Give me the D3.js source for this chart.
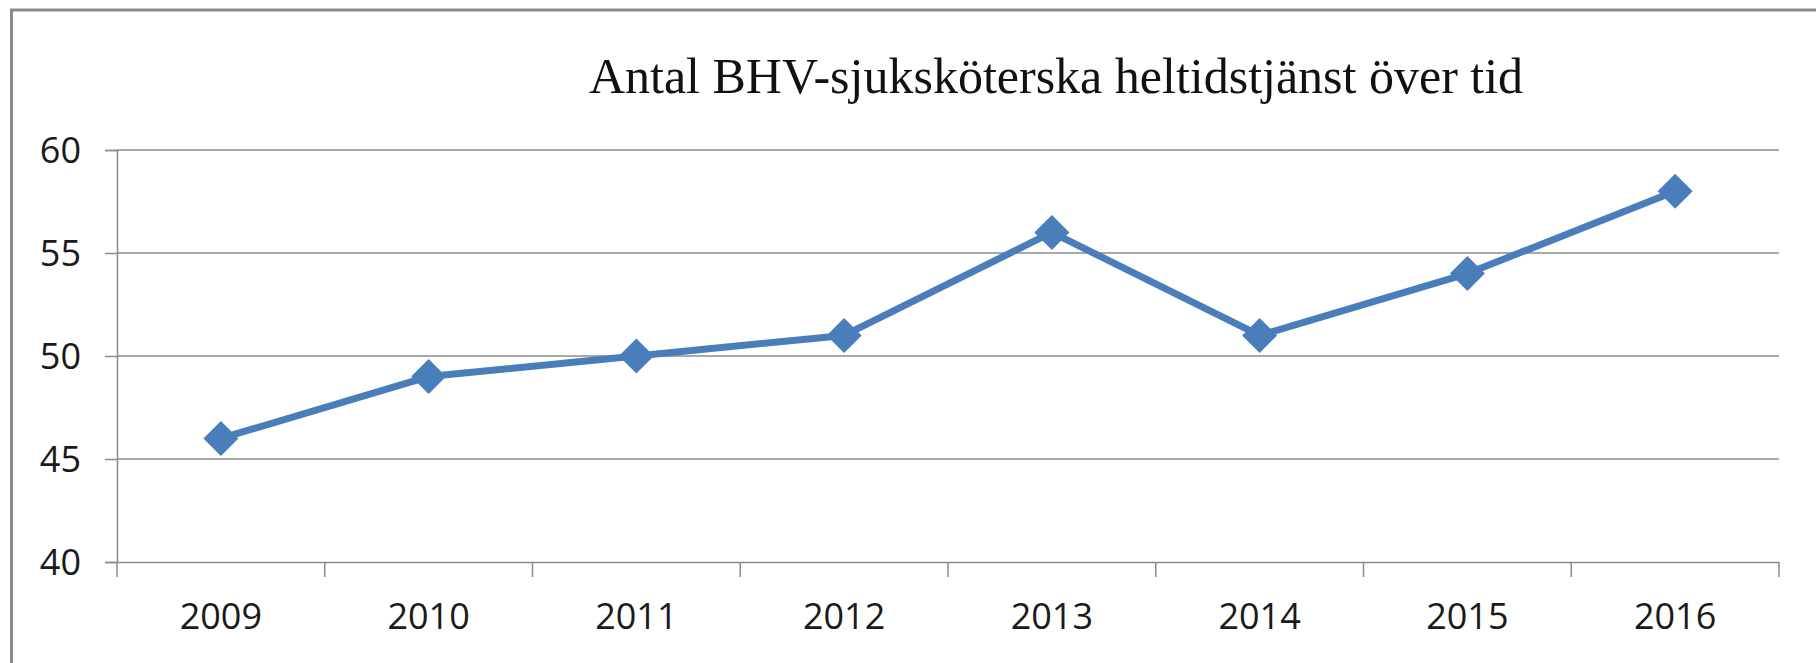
<!DOCTYPE html>
<html>
<head>
<meta charset="utf-8">
<script src="https://cdn.jsdelivr.net/npm/d3@7"></script>
<style>
  html, body { margin: 0; padding: 0; background: #fff; }
  svg { display: block; }
</style>
</head>
<body>
<div id="chart"></div>
<script>
const years = ['2009', '2010', '2011', '2012', '2013', '2014', '2015', '2016'];
const nurses = [46, 49, 50, 51, 56, 51, 54, 58];
const yTicks = [40, 45, 50, 55, 60];
const title = 'Antal BHV-sjuksköterska heltidstjänst över tid';

const width = 1816, height = 663;
const margin = { top: 150, right: 37, bottom: 101, left: 117 };

const svg = d3.select('#chart')
  .append('svg')
  .attr('width', width)
  .attr('height', height);

// chart frame (only top and left edges are visible in the crop)
svg.append('path')
  .attr('d', `M11.5,${height} V10 H${width}`)
  .attr('fill', 'none')
  .attr('stroke', '#8a8a8a')
  .attr('stroke-width', 3);

const x = d3.scaleBand()
  .domain(years)
  .range([margin.left, width - margin.right]);

const y = d3.scaleLinear()
  .domain([40, 60])
  .range([height - margin.bottom, margin.top]);

// gridlines
svg.append('g')
  .selectAll('line')
  .data(yTicks.slice(1))
  .enter().append('line')
  .attr('x1', margin.left)
  .attr('x2', width - margin.right)
  .attr('y1', d => y(d))
  .attr('y2', d => y(d))
  .attr('stroke', '#8c8c8c')
  .attr('stroke-width', 1.5);

// y axis
const yAxis = svg.append('g')
  .attr('transform', `translate(${margin.left},0)`)
  .call(d3.axisLeft(y).tickValues(yTicks).tickSize(12).tickPadding(24));

// x axis: ticks on category boundaries
const xAxis = svg.append('g')
  .attr('transform', `translate(0,${height - margin.bottom})`)
  .call(d3.axisBottom(x).tickSize(0).tickPadding(54));

xAxis.selectAll('.bound')
  .data(years.map(d => x(d)).concat([x.range()[1]]))
  .enter().append('line')
  .attr('class', 'bound')
  .attr('x1', d => d)
  .attr('x2', d => d)
  .attr('y1', 0)
  .attr('y2', 15)
  .attr('stroke', '#8c8c8c')
  .attr('stroke-width', 1.5);

[yAxis, xAxis].forEach(ax => {
  ax.select('.domain').attr('stroke', '#8c8c8c').attr('stroke-width', 1.5);
  ax.selectAll('.tick line').attr('stroke', '#8c8c8c').attr('stroke-width', 1.5);
  ax.selectAll('.tick text')
    .attr('fill', '#1a1a1a')
    .style('font-family', '"Open Sans", sans-serif')
    .style('font-size', '36px');
});
yAxis.selectAll('.tick text').attr('dy', '0.35em');
xAxis.selectAll('.tick text').attr('dy', '0.35em');

// title
svg.append('text')
  .attr('x', 1056)
  .attr('y', 93)
  .attr('text-anchor', 'middle')
  .style('font-family', '"Liberation Serif", "Times New Roman", serif')
  .style('font-size', '50px')
  .attr('fill', '#111')
  .text(title);

// series line
const line = d3.line()
  .x((d, i) => x(years[i]) + x.bandwidth() / 2)
  .y(d => y(d));

svg.append('path')
  .datum(nurses)
  .attr('d', line)
  .attr('fill', 'none')
  .attr('stroke', '#4a7ebb')
  .attr('stroke-width', 7)
  .attr('stroke-linejoin', 'round');

// diamond markers
const r = 17.5;
svg.append('g')
  .selectAll('path')
  .data(nurses)
  .enter().append('path')
  .attr('d', (d, i) => {
    const cx = x(years[i]) + x.bandwidth() / 2, cy = y(d);
    return `M${cx},${cy - r}L${cx + r},${cy}L${cx},${cy + r}L${cx - r},${cy}Z`;
  })
  .attr('fill', '#4a7ebb');
</script>
</body>
</html>
